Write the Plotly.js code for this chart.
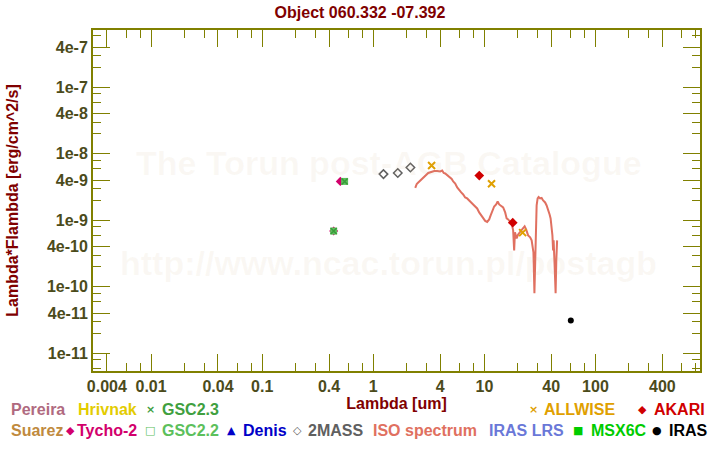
<!DOCTYPE html>
<html><head><meta charset="utf-8">
<script src="https://cdn.plot.ly/plotly-3.0.1.min.js"></script>
<style>html,body{margin:0;padding:0;background:#fff}#chart{width:720px;height:450px}</style>
</head><body><div id="chart"></div>
<script>
// ---- text ----
const titleText = "Object 060.332 -07.392";
const xTitle = "Lambda [um]";
const yTitle = "Lambda*Flambda [erg/cm^2/s]";
const watermark1 = "The Torun post-AGB Catalogue";
const watermark2 = "http://www.ncac.torun.pl/postagb";

// ---- ticks ----
const xTickVals = [0.004, 0.01, 0.04, 0.1, 0.4, 1, 4, 10, 40, 100, 400];
const xTickText = ["0.004", "0.01", "0.04", "0.1", "0.4", "1", "4", "10", "40", "100", "400"];
const yTickVals = [1e-11, 4e-11, 1e-10, 4e-10, 1e-9, 4e-9, 1e-8, 4e-8, 1e-7, 4e-7];
const yTickText = ["1e-11", "4e-11", "1e-10", "4e-10", "1e-9", "4e-9", "1e-8", "4e-8", "1e-7", "4e-7"];
const minorMantissas = [2, 3, 6, 8];
const xDecades = [-3, -2, -1, 0, 1, 2];
const yDecades = [-12, -11, -10, -9, -8, -7];

// ---- data (wavelength um, lambda*F_lambda erg/cm2/s) ----
const tychoX = [0.44, 0.505];
const tychoY = [6.9e-10, 3.85e-9];
const gsc22X = [0.44, 0.552];
const gsc22Y = [6.9e-10, 3.85e-9];
const gsc23X = [0.44, 0.552];
const gsc23Y = [6.9e-10, 3.85e-9];
const twomassX = [1.235, 1.662, 2.159];
const twomassY = [4.96e-9, 5.14e-9, 6.24e-9];
const allwiseX = [3.35, 11.6, 22.1];
const allwiseY = [6.67e-9, 3.55e-9, 6.53e-10];
const akariX = [9.0, 18.0];
const akariY = [4.72e-9, 9.23e-10];
const irasX = [60];
const irasY = [3.13e-11];
const isoX = [2.387,2.461,2.540,2.647,2.758,2.935,3.124,3.323,3.537,3.763,4.005,4.174,4.305,4.441,4.629,4.825,5.082,5.242,5.464,5.694,5.935,6.186,6.447,6.719,7.003,7.300,7.608,7.930,8.265,8.614,8.978,9.359,9.755,10.17,10.60,11.05,11.39,11.75,12.25,12.77,13.17,13.59,14.16,14.76,15.39,15.87,16.37,17.06,17.60,18.16,18.54,18.85,19.52,20.14,20.98,21.88,23.04,23.76,24.77,25.82,26.64,27.20,27.65,28.22,28.63,29.05,29.54,30.16,30.79,31.76,32.76,33.80,35.23,36.34,37.48,38.66,39.47,40.30,40.97,41.57,42.01,42.88,43.78,44.42,45.16];
const isoY = [3.069e-9,3.523e-9,3.71e-9,3.975e-9,4.26e-9,4.725e-9,5.152e-9,5.333e-9,5.52e-9,5.52e-9,5.426e-9,5.617e-9,5.152e-9,5.064e-9,4.807e-9,4.564e-9,4.187e-9,3.84e-9,3.584e-9,3.122e-9,2.814e-9,2.627e-9,2.451e-9,2.21e-9,2.135e-9,1.958e-9,1.859e-9,1.735e-9,1.591e-9,1.511e-9,1.316e-9,1.187e-9,1.070e-9,9.81e-10,9.48e-10,1.033e-9,1.187e-9,1.362e-9,1.619e-9,1.735e-9,1.924e-9,1.735e-9,1.619e-9,1.564e-9,1.316e-9,1.070e-9,1.033e-9,9.64e-10,9.0e-10,7.07e-10,3.54e-10,6.595e-10,5.36e-10,6.15e-10,6.83e-10,7.31e-10,8.11e-10,7.31e-10,5.94e-10,5.55e-10,5.0e-10,3.79e-10,3.30e-10,8.02e-11,1.774e-10,3.54e-10,1.676e-9,2.135e-9,2.248e-9,2.135e-9,2.172e-9,1.992e-9,1.859e-9,1.676e-9,1.46e-9,1.228e-9,1.070e-9,7.57e-10,5.94e-10,3.54e-10,5.0e-10,2.109e-10,8.02e-11,2.506e-10,5.0e-10];

// ---- legend (text rows under the plot) ----
const legendNames  = ["Pereira","Hrivnak","GSC2.3","ALLWISE","AKARI","Suarez","Tycho-2","GSC2.2","Denis","2MASS","ISO spectrum","IRAS LRS","MSX6C","IRAS"];
const legendGlyphs = ["","","\u00d7","\u00d7","\u25c6","","\u25c6","\u25a1","\u25b2","\u25c7","","","\u25a0","\u25cf"];
const legendColors = ["#b06a80","#e3cc00","#40a040","#e0a000","#d00000","#c08a3e","#d2006c","#5cc05c","#0000c8","#606060","#e07060","#6a78d8","#00cc00","#000000"];
const legendRow    = [1,1,1,1,1,2,2,2,2,2,2,2,2,2];
const legendTextPx = [10,77,161,543,653,10,76,161,242,307,372,488,590,668];
const legendGlyphPx= [0,0,150,533,642,0,70,150,231,297,0,0,578,657];

// ---- layout geometry ----
const W = 720, H = 450, ML = 93, MR = 20, MT = 30, MB = 79;
const PW = W - ML - MR, PH = H - MT - MB;
const px2x = p => (p - ML) / PW;
const py2y = p => (H - MB - p) / PH;

const olive = "#808000";
const tickCol = "#4b4b1b";
const red = "#800000";
const FONT = "Liberation Sans, Arial, sans-serif";

const minorVals = ds => ds.flatMap(d => minorMantissas.map(m => m * Math.pow(10, d)));

const traces = [
  {x: isoX, y: isoY, mode: "lines", line: {color: "#e07060", width: 2}, name: "ISO spectrum"},
  {x: tychoX, y: tychoY, mode: "markers", marker: {symbol: "diamond", size: 7, color: "#d2006c"}, name: "Tycho-2"},
  {x: gsc22X, y: gsc22Y, mode: "markers", marker: {symbol: "square", size: 7, color: "#5cc05c"}, name: "GSC2.2"},
  {x: gsc23X, y: gsc23Y, mode: "markers", marker: {symbol: "x-thin-open", size: 6, color: "#3a9a3a", line: {color: "#3a9a3a", width: 1.5}}, name: "GSC2.3"},
  {x: twomassX, y: twomassY, mode: "markers", marker: {symbol: "diamond-open", size: 6.5, color: "#606060", line: {color: "#606060", width: 1.5}}, name: "2MASS"},
  {x: allwiseX, y: allwiseY, mode: "markers", marker: {symbol: "x-thin-open", size: 7, color: "#e0a000", line: {color: "#e0a000", width: 2}}, name: "ALLWISE"},
  {x: akariX, y: akariY, mode: "markers", marker: {symbol: "diamond", size: 7.5, color: "#d00000"}, name: "AKARI"},
  {x: irasX, y: irasY, mode: "markers", marker: {symbol: "circle", size: 6, color: "#000000"}, name: "IRAS"}
];

const annotations = [
  {text: watermark1, xref: "paper", yref: "paper", x: px2x(389), y: py2y(163), xanchor: "center", yanchor: "middle",
   showarrow: false, font: {family: FONT, size: 34, weight: "bold", color: "rgba(205,175,135,0.09)"}},
  {text: watermark2, xref: "paper", yref: "paper", x: px2x(388), y: py2y(263), xanchor: "center", yanchor: "middle",
   showarrow: false, font: {family: FONT, size: 34, weight: "bold", color: "rgba(205,175,135,0.09)"}}
];
legendNames.forEach((n, i) => {
  const yy = legendRow[i] === 1 ? 410 : 430;
  annotations.push({text: n, xref: "paper", yref: "paper", x: px2x(legendTextPx[i]), y: py2y(yy),
    xanchor: "left", yanchor: "middle", showarrow: false, borderpad: 0,
    font: {family: FONT, size: 16, weight: "bold", color: legendColors[i]}});
  if (legendGlyphs[i]) {
    annotations.push({text: legendGlyphs[i], xref: "paper", yref: "paper", x: px2x(legendGlyphPx[i]), y: py2y(yy),
      xanchor: "center", yanchor: "middle", showarrow: false, borderpad: 0,
      font: {family: "DejaVu Sans, sans-serif", size: 11, weight: "bold", color: legendColors[i]}});
  }
});

const axisCommon = {
  type: "log", showgrid: false, zeroline: false, showline: true, linecolor: olive, linewidth: 2,
  mirror: "allticks", ticks: "inside", ticklen: 17, tickwidth: 1, tickcolor: olive,
  tickmode: "array", tickfont: {family: FONT, size: 16, weight: "bold", color: tickCol},
  automargin: false
};

const layout = {
  width: W, height: H, margin: {l: ML, r: MR, t: MT, b: MB},
  paper_bgcolor: "#ffffff", plot_bgcolor: "#ffffff", showlegend: false,
  title: {text: titleText, x: 0.5, xref: "container", xanchor: "center", y: 1 - 12 / H, yref: "container", yanchor: "middle",
          font: {family: FONT, size: 16, weight: "bold", color: red}},
  xaxis: Object.assign({}, axisCommon, {
    range: [Math.log10(0.003), Math.log10(873)],
    tickvals: xTickVals, ticktext: xTickText,
    minor: {tickmode: "array", tickvals: minorVals(xDecades), ticks: "inside", ticklen: 8, tickwidth: 1, tickcolor: olive, showgrid: false},
    title: {text: xTitle, standoff: 4, font: {family: FONT, size: 16, weight: "bold", color: red}}
  }),
  yaxis: Object.assign({}, axisCommon, {
    range: [-11.265, -6.138],
    tickvals: yTickVals, ticktext: yTickText,
    minor: {tickmode: "array", tickvals: minorVals(yDecades), ticks: "inside", ticklen: 8, tickwidth: 1, tickcolor: olive, showgrid: false},
    title: {text: yTitle, standoff: 24, font: {family: FONT, size: 16, weight: "bold", color: red}}
  }),
  annotations: annotations
};

Plotly.newPlot("chart", traces, layout, {displayModeBar: false, staticPlot: true});
</script></body></html>
